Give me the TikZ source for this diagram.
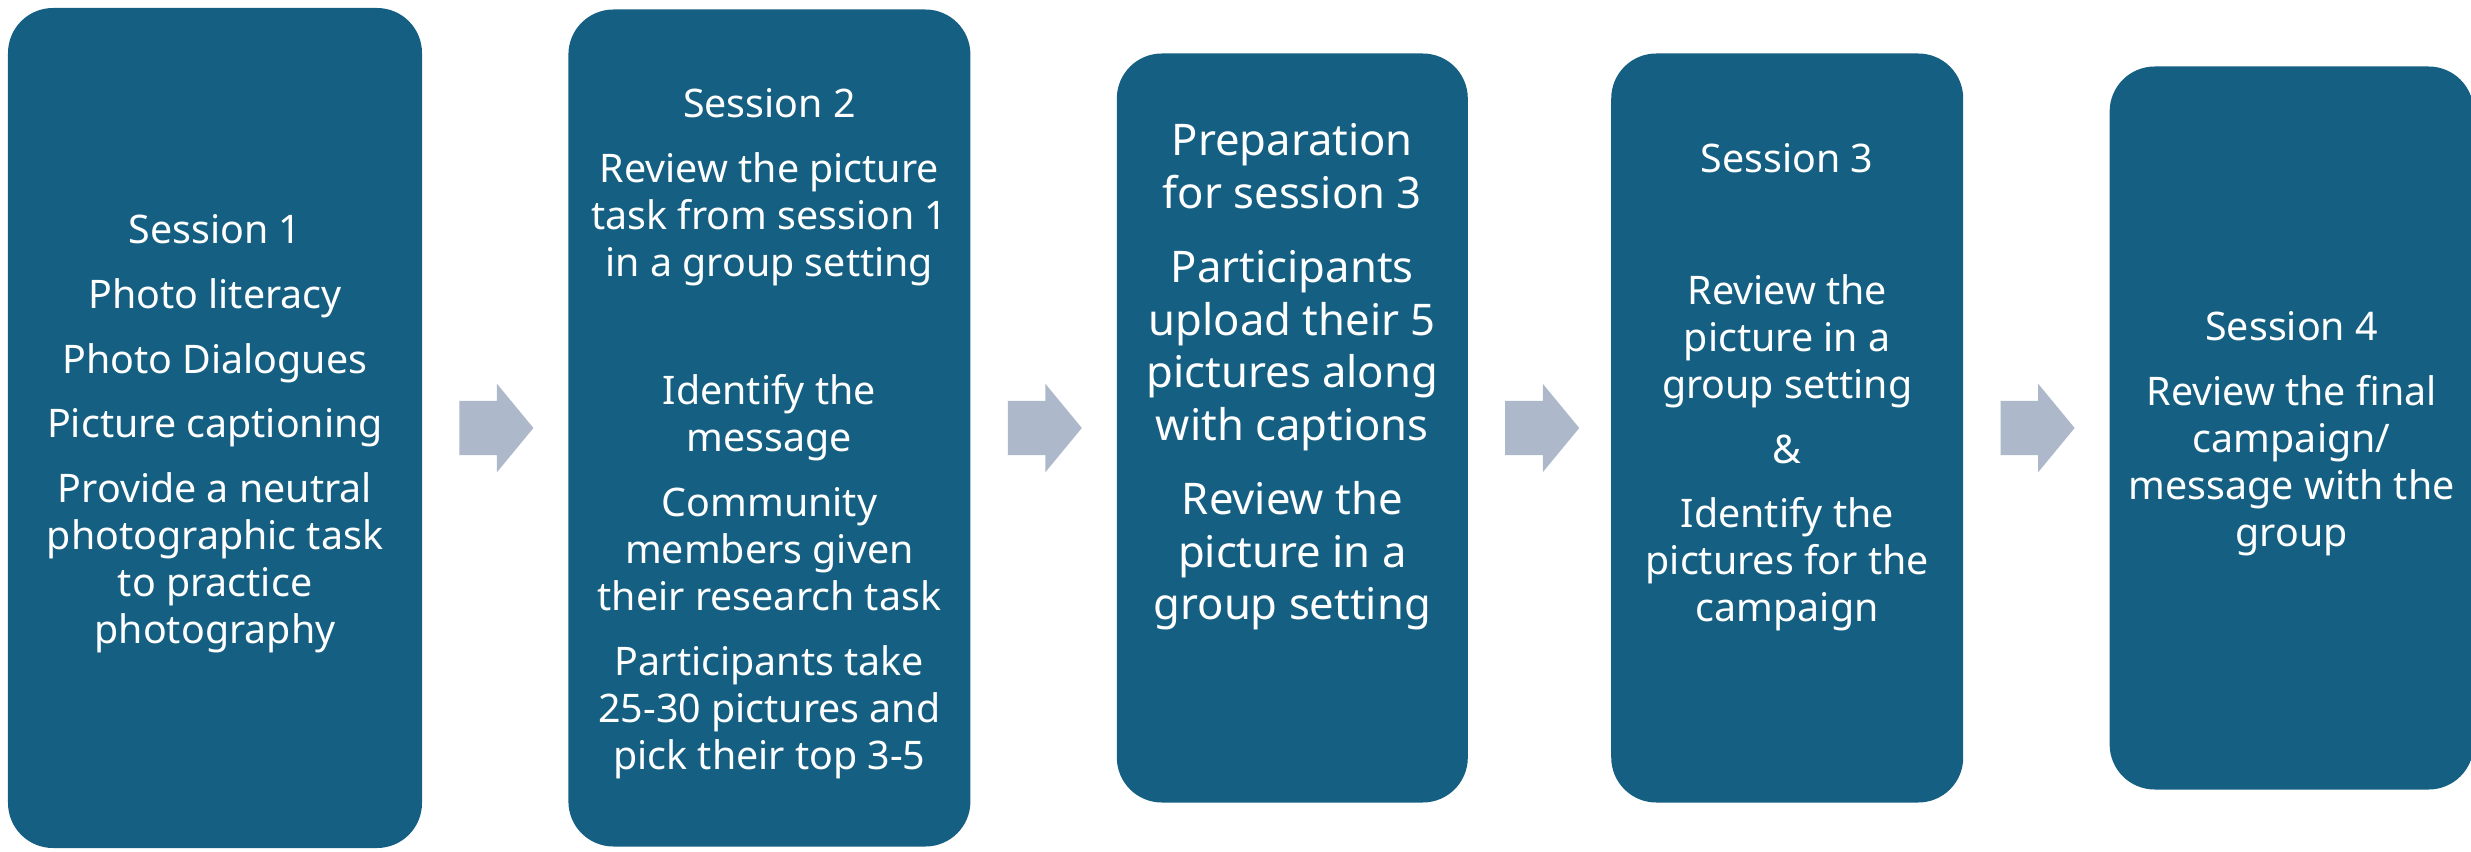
\documentclass[tikz,border=0pt]{standalone}
\usepackage{fontspec}
\setmainfont{Noto Sans}
\usetikzlibrary{shapes.arrows,positioning,calc}
\definecolor{stageblue}{HTML}{156082}
\definecolor{arrowgray}{HTML}{ADB9CA}
\tikzset{
    stage/.style={rectangle, rounded corners=0.45cm, fill=stageblue, draw=none, inner sep=0pt},
    stagetext/.style={text=white, align=center, inner sep=0pt, yshift=-0.6mm, font=\fontsize{11.2}{13.4}\selectfont},
    bigtext/.style={stagetext, font=\fontsize{12.4}{15}\selectfont},
    flow/.style={single arrow, fill=arrowgray, draw=none, inner xsep=0pt, inner ysep=0.265cm, minimum height=0.74cm, single arrow head extend=0.17cm, single arrow tip angle=101}
}

\begin{document}
\begin{tikzpicture}
\useasboundingbox (0,0) rectangle (24.71,8.51);

% the five stages
\node[stage, minimum width=4.14cm, minimum height=8.40cm] (s1) at (2.15,4.23) {};
\node[stage, minimum width=4.02cm, minimum height=8.37cm, right=1.45cm of s1] (s2) {};
\node[stage, minimum width=3.51cm, minimum height=7.49cm, right=1.45cm of s2] (s3) {};
\node[stage, minimum width=3.52cm, minimum height=7.49cm, right=1.42cm of s3] (s4) {};
\node[stage, minimum width=3.64cm, minimum height=7.23cm, right=1.45cm of s4] (s5) {};

% Session 1
\node[stagetext] (t1) at (s1) {Session 1\\[5pt]
  Photo literacy\\[5pt]
  Photo Dialogues\\[5pt]
  Picture captioning\\[5pt]
  Provide a neutral\\ photographic task\\ to practice\\ photography};

% Session 2
\node[stagetext] (t2) at (s2) {Session 2\\[5pt]
  Review the picture\\ task from session 1\\ in a group setting\\[23pt]
  Identify the\\ message\\[5pt]
  Community\\ members given\\ their research task\\[5pt]
  Participants take\\ 25-30 pictures and\\ pick their top 3-5};

% Preparation
\node[bigtext] (t3) at ([yshift=0.57cm]s3.center) {Preparation\\ for session 3\\[6pt]
  Participants\\ upload their 5\\ pictures along\\ with captions\\[6pt]
  Review the\\ picture in a\\ group setting};

% Session 3
\node[stagetext] (t4) at ([yshift=0.465cm]s4.center) {Session 3\\[24pt]
  Review the\\ picture in a\\ group setting\\[5pt]
  \&\\[5pt]
  Identify the\\ pictures for the\\ campaign};

% Session 4
\node[stagetext] (t5) at (s5) {Session 4\\[5pt]
  Review the final\\ campaign/\\ message with the\\ group};

% arrows between stages
\foreach \i in {1,...,4} {
  \node[flow, anchor=tail] (a\i) at ([xshift=0.36cm]s\i.east) {};
}

\end{tikzpicture}
\end{document}
